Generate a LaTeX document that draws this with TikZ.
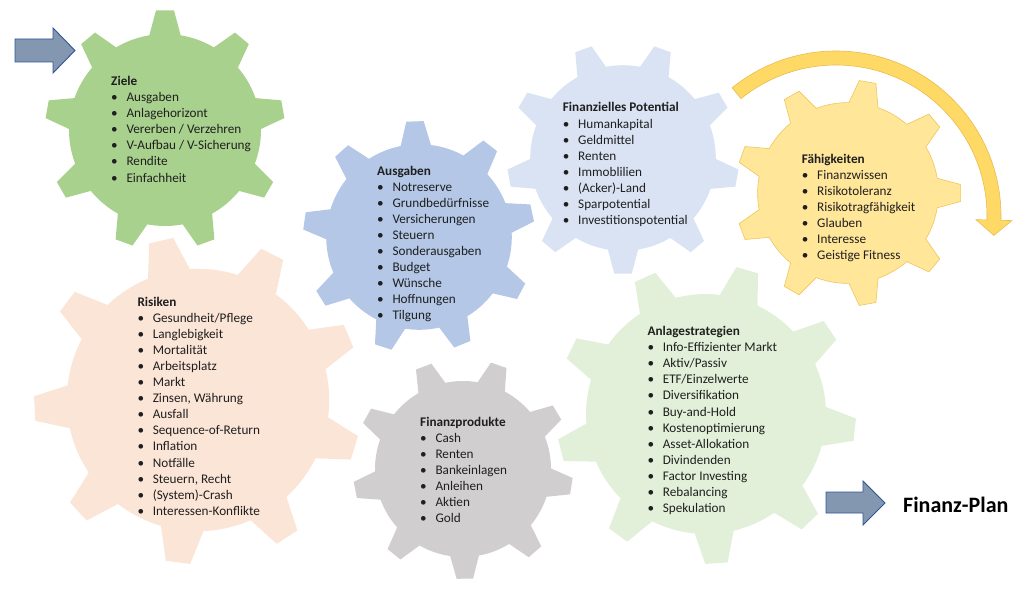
\documentclass[tikz,border=0pt]{standalone}
\usepackage{fontspec}
\setmainfont{Carlito}
\usepackage{tikz}

\definecolor{zielegruen}{HTML}{A9D18E}
\definecolor{ausgabenblau}{HTML}{B4C7E7}
\definecolor{potentialblau}{HTML}{DAE3F3}
\definecolor{faehiggelb}{HTML}{FFE699}
\definecolor{faehigrand}{HTML}{EEC65C}
\definecolor{risikenrosa}{HTML}{FBE5D6}
\definecolor{produktgrau}{HTML}{D0CECE}
\definecolor{strategiegruen}{HTML}{E2F0D9}
\definecolor{pfeilblau}{HTML}{8497B0}
\definecolor{pfeilrand}{HTML}{2F5597}
\definecolor{bogengelb}{HTML}{FFD966}
\definecolor{bogenrand}{HTML}{E9BC4C}

\newcommand{\punkt}{\makebox[15.3pt][l]{\textbullet}}
% gear with 9 teeth: center x, center y, tip radius, turn, style
\newcommand{\drawgear}[5]{%
	\begin{scope}[shift={(#1,#2)}]
		\pgfmathsetmacro{\rb}{0.8*#3}
		\path[#5] (#4-99.4:\rb)
			\foreach \k in {0,...,8}{
				-- (#4-90+40*\k-9.4:\rb) -- (#4-90+40*\k-4.3:#3) -- (#4-90+40*\k+4.3:#3) -- (#4-90+40*\k+9.4:\rb)
				arc[start angle=#4-90+40*\k+9.4, end angle=#4-90+40*\k+30.6, radius=\rb]
			} -- cycle;
	\end{scope}}

\tikzset{
	liste/.style={anchor=base west, inner sep=0pt, font=\fontsize{13.2}{16.1}\selectfont, text=black!88},
	pfeil/.style={fill=pfeilblau, draw=pfeilrand, line width=0.9pt, line join=miter},
	bogen/.style={fill=bogengelb, draw=bogenrand, line width=0.6pt}
}

\begin{document}
\begin{tikzpicture}[x=1pt,y=-1pt]
	\useasboundingbox (0,0) rectangle (1024,591);

	\drawgear{165}{130}{120}{0}{fill=zielegruen}
	\drawgear{419}{237}{116}{-2}{fill=ausgabenblau}
	\drawgear{623}{158}{116}{20}{fill=potentialblau}
	\drawgear{848}{193}{113}{10}{fill=faehiggelb, draw=faehigrand, line width=0.6pt}
	\drawgear{198}{400}{164}{27}{fill=risikenrosa}
	\drawgear{463}{469}{110}{19}{fill=produktgrau}
	\drawgear{706}{414}{150}{16}{fill=strategiegruen}

	\draw[pfeil] (15,39) -- (53,39) -- (53,28) -- (75,50.5) -- (53,73) -- (53,62) -- (15,62) -- cycle;
	\draw[pfeil] (826,492) -- (863,492) -- (863,481) -- (885,503) -- (863,525) -- (863,513) -- (826,513) -- cycle;

	\begin{scope}[shift={(836,216)}]
		\path[bogen] (-129:165) arc[start angle=-129, end angle=1.5, radius=165] -- (1.5:176) -- (7:159)
			-- (1.5:140) -- (1.5:151) arc[start angle=1.5, end angle=-129, radius=151] -- cycle;
	\end{scope}

	\node[liste] (ziele) at (111,85.5) {\begin{tabular}[t]{@{}l@{}}\textbf{Ziele}\\
		\punkt Ausgaben\\ \punkt Anlagehorizont\\ \punkt Vererben / Verzehren\\
		\punkt V-Aufbau / V-Sicherung\\ \punkt Rendite\\ \punkt Einfachheit\end{tabular}};
	\node[liste] (ausgaben) at (377,175) {\begin{tabular}[t]{@{}l@{}}\textbf{Ausgaben}\\
		\punkt Notreserve\\ \punkt Grundbedürfnisse\\ \punkt Versicherungen\\ \punkt Steuern\\
		\punkt Sonderausgaben\\ \punkt Budget\\ \punkt Wünsche\\ \punkt Hoffnungen\\ \punkt Tilgung\end{tabular}};
	\node[liste] (potential) at (562.7,112) {\begin{tabular}[t]{@{}l@{}}\textbf{Finanzielles Potential}\\
		\punkt Humankapital\\ \punkt Geldmittel\\ \punkt Renten\\ \punkt Immoblilien\\
		\punkt (Acker)-Land\\ \punkt Sparpotential\\ \punkt Investitionspotential\end{tabular}};
	\node[liste] (faehig) at (801.7,163) {\begin{tabular}[t]{@{}l@{}}\textbf{Fähigkeiten}\\
		\punkt Finanzwissen\\ \punkt Risikotoleranz\\ \punkt Risikotragfähigkeit\\
		\punkt Glauben\\ \punkt Interesse\\ \punkt Geistige Fitness\end{tabular}};
	\node[liste] (risiken) at (137.3,306) {\begin{tabular}[t]{@{}l@{}}\textbf{Risiken}\\
		\punkt Gesundheit/Pflege\\ \punkt Langlebigkeit\\ \punkt Mortalität\\ \punkt Arbeitsplatz\\
		\punkt Markt\\ \punkt Zinsen, Währung\\ \punkt Ausfall\\ \punkt Sequence-of-Return\\
		\punkt Inflation\\ \punkt Notfälle\\ \punkt Steuern, Recht\\ \punkt (System)-Crash\\
		\punkt Interessen-Konflikte\end{tabular}};
	\node[liste] (produkte) at (420,426) {\begin{tabular}[t]{@{}l@{}}\textbf{Finanzprodukte}\\
		\punkt Cash\\ \punkt Renten\\ \punkt Bankeinlagen\\ \punkt Anleihen\\
		\punkt Aktien\\ \punkt Gold\end{tabular}};
	\node[liste] (strategien) at (647.3,335.5) {\begin{tabular}[t]{@{}l@{}}\textbf{Anlagestrategien}\\
		\punkt Info-Effizienter Markt\\ \punkt Aktiv/Passiv\\ \punkt ETF/Einzelwerte\\
		\punkt Diversifikation\\ \punkt Buy-and-Hold\\ \punkt Kostenoptimierung\\
		\punkt Asset-Allokation\\ \punkt Divindenden\\ \punkt Factor Investing\\
		\punkt Rebalancing\\ \punkt Spekulation\end{tabular}};

	\node[anchor=base west, inner sep=0pt, font=\fontsize{22}{26}\selectfont\bfseries] (plan) at (903,512) {Finanz-Plan};
\end{tikzpicture}
\end{document}
